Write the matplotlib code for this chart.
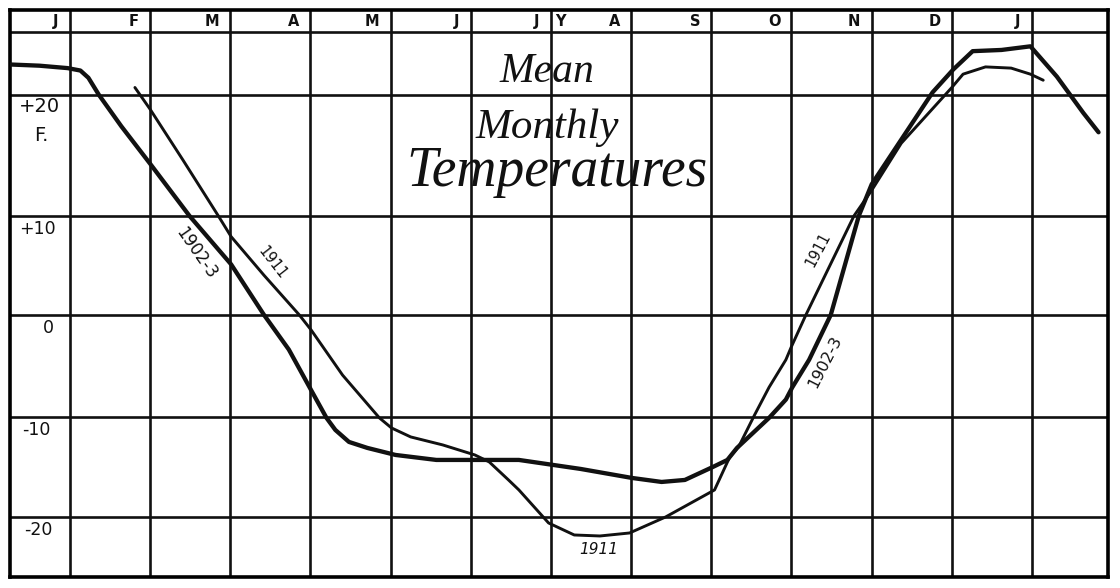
import numpy as np
import matplotlib
matplotlib.use("Agg")
from matplotlib import pyplot as plt

# month letters written in the top band, one per month line (Jan .. next Jan)
monthLetters = ["J", "F", "M", "A", "M", "J", "J", "A", "S", "O", "N", "D", "J"]

# temperature rows in the left column
tempTicks = [20, 10, 0, -10, -20]
tempLabels = ["+20", "+10", "0", "-10", "-20"]

# 1902-3 curve: x = months after the January line, y = deg F
month1902 = [-0.75, -0.38, -0.03, 0.13, 0.23, 0.36, 0.64, 1.0, 1.49, 2.01, 2.42, 2.73,
             3.01, 3.2, 3.31, 3.48, 3.71, 4.06, 4.57, 5.01, 5.6, 6.37, 7.01, 7.38, 7.67,
             8.02, 8.2, 8.32, 8.52, 8.72, 8.93, 9.01, 9.22, 9.49, 9.84, 10.0, 10.37,
             10.76, 11.02, 11.26, 11.62, 11.98, 12.31, 12.64, 12.83]
temp1902 = [22.5, 22.4, 22.2, 22.0, 21.4, 20.0, 17.4, 14.3, 10.0, 5.1, 0.0, -3.4,
            -7.4, -10.1, -11.3, -12.5, -13.1, -13.8, -14.3, -14.3, -14.3, -15.2, -16.1, -16.5, -16.3,
            -15.0, -14.3, -13.1, -11.6, -10.1, -8.3, -7.1, -4.4, 0.0, 10.0, 12.6, 16.3,
            20.2, 22.1, 23.6, 23.7, 24.0, 21.5, 18.5, 16.9]

# 1911 curve
month1911 = [0.81, 1.0, 1.41, 1.85, 2.01, 2.42, 2.86, 3.01, 3.4, 3.86, 4.01, 4.25, 4.65,
             5.05, 5.23, 5.47, 5.6, 5.97, 6.29, 6.61, 6.98, 7.43, 8.04, 8.23, 8.34, 8.54,
             8.72, 8.93, 9.0, 9.18, 9.78, 10.0, 10.37, 11.0, 11.14, 11.42, 11.74, 11.98, 12.14]
temp1911 = [20.6, 18.8, 14.6, 10.0, 7.9, 4.0, 0.0, -1.5, -5.9, -10.1, -11.1, -12.0, -12.8,
            -13.8, -14.5, -16.3, -17.3, -20.6, -21.8, -21.9, -21.6, -20.0, -17.3, -14.0, -13.0, -9.8,
            -7.1, -4.4, -3.1, 0.0, 10.0, 12.1, 16.0, 20.6, 21.7, 22.3, 22.2, 21.7, 21.2]

# the hand-ruled rows are not evenly spaced (the +20 row is drawn taller)
scaleDeg = [-40, -20, -10, 0, 10, 20, 40]
scaleDraw = [-402, -202, -102, 0, 99, 220, 462]

def fwd(v):
    return np.interp(v, scaleDeg, scaleDraw)

def inv(v):
    return np.interp(v, scaleDraw, scaleDeg)

headerLine = 25.2

fig = plt.figure(figsize=(11.2, 5.88), dpi=100)
ax = fig.add_axes([10/1120, 11/588, 1098/1120, 567/588])
ax.set_yscale("function", functions=(fwd, inv))
ax.set_xlim(-0.748, 12.948)
ax.set_ylim(-26.0, 27.0)
ax.set_xticks([])
ax.set_yticks([])
ax.minorticks_off()
for s in ax.spines.values():
    s.set_linewidth(2.6)

ink = "#111111"

# grid
for k in range(len(monthLetters)):
    ax.axvline(k, color=ink, lw=1.9, zorder=1)
for t in tempTicks:
    ax.axhline(t, color=ink, lw=1.9, zorder=1)
ax.axhline(headerLine, color=ink, lw=1.9, zorder=1)

# month letters
for k, m in enumerate(monthLetters):
    ax.text(k - 0.14, 26.05, m, ha="right", va="center", fontsize=10.5,
            fontweight="bold", color=ink)
ax.text(6.05, 26.05, "Y", ha="left", va="center", fontsize=10.5,
        fontweight="bold", color=ink)

# temperature labels
labelPos = [(-0.38, 19.0), (-0.40, 8.7), (-0.27, -1.3), (-0.42, -11.3), (-0.40, -21.3)]
for (lx, ly), lab in zip(labelPos, tempLabels):
    ax.text(lx, ly, lab, ha="center", va="center", fontsize=14 if lab == "+20" else 12.5,
            color=ink)
ax.text(-0.36, 16.6, "F.", ha="center", va="center", fontsize=14, color=ink)

# curves
ax.plot(month1902, temp1902, color=ink, lw=3.1, solid_joinstyle="round",
        solid_capstyle="round", zorder=3)
ax.plot(month1911, temp1911, color=ink, lw=2.1, solid_joinstyle="round",
        solid_capstyle="round", zorder=3)

# curve labels
ax.text(1.57, 6.2, "1902-3", rotation=-55, ha="center", va="center", fontsize=12, color=ink)
ax.text(2.53, 5.3, "1911", rotation=-52, ha="center", va="center", fontsize=10.5, color=ink)
ax.text(6.59, -23.3, "1911", ha="center", va="center", fontsize=11, style="italic", color=ink)
ax.text(9.33, 6.6, "1911", rotation=62, ha="center", va="center", fontsize=10.5, color=ink)
ax.text(9.42, -4.6, "1902-3", rotation=63, ha="center", va="center", fontsize=11.5, color=ink)

# title in script-like lettering
titleFont = ["Liberation Serif", "DejaVu Serif"]
ax.text(5.95, 21.9, "Mean", ha="center", va="center", fontsize=30, style="italic",
        family=titleFont, color=ink)
ax.text(5.95, 17.3, "Monthly", ha="center", va="center", fontsize=31, style="italic",
        family=titleFont, color=ink)
ax.text(6.07, 13.6, "Temperatures", ha="center", va="center", fontsize=40, style="italic",
        family=titleFont, color=ink)

fig.savefig("out.png", dpi=100, facecolor="white")
